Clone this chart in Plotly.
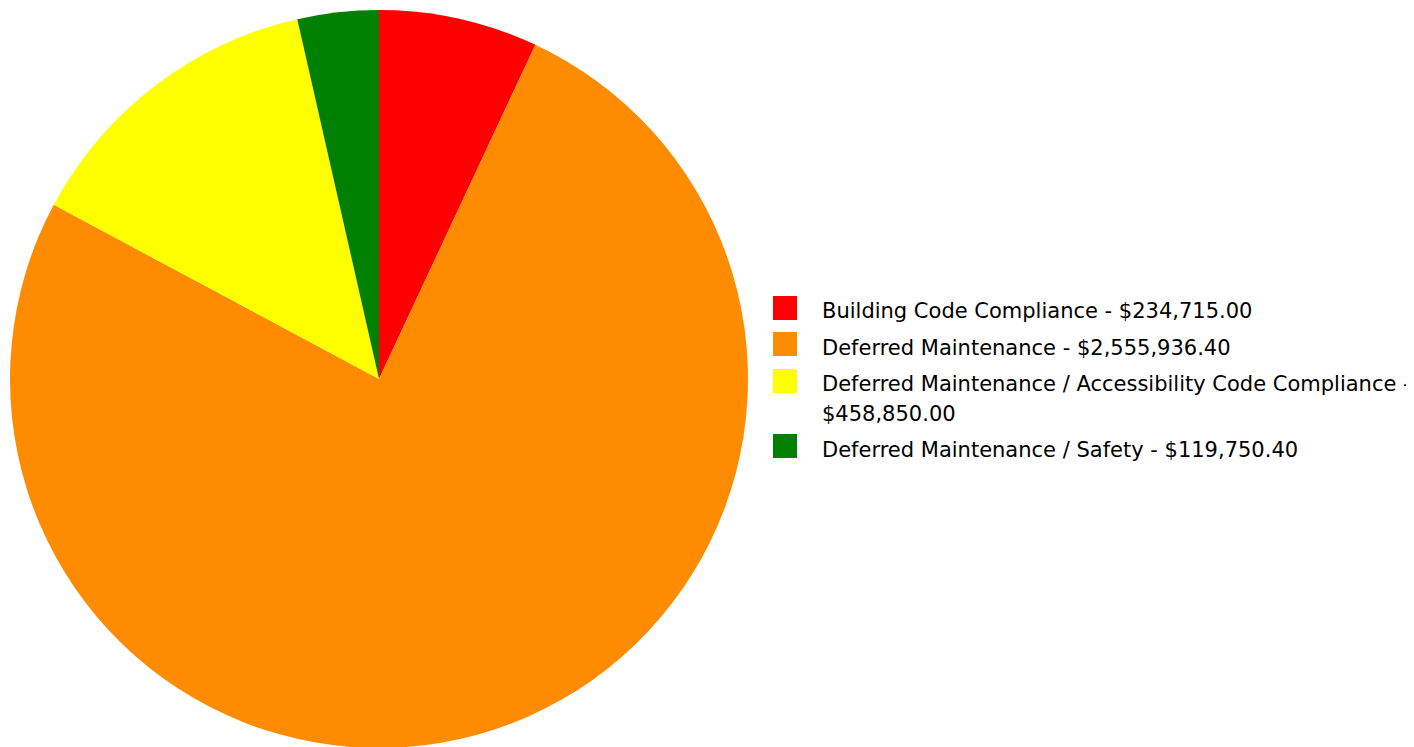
import plotly.graph_objects as go

categories = [
    "Building Code Compliance",
    "Deferred Maintenance",
    "Deferred Maintenance / Accessibility Code Compliance",
    "Deferred Maintenance / Safety",
]
values = [234715.00, 2555936.40, 458850.00, 119750.40]
colors = ["#FF0000", "#FF8C00", "#FFFF00", "#008000"]

W, H = 1414, 747
OFF = 8  # page body margin

def px(x):
    return (x - OFF) / W

def py(y):
    return 1 - (y - OFF) / H

fig = go.Figure()
fig.add_trace(go.Pie(
    labels=categories,
    values=values,
    marker=dict(colors=colors, line=dict(width=0)),
    sort=False,
    direction="clockwise",
    rotation=0,
    textinfo="none",
    hoverinfo="label+value+percent",
    showlegend=False,
    domain=dict(x=[px(10), px(748)], y=[py(748), py(10)]),
))

# Manual legend (swatches + labels), screen-pixel positions
swatch_tops = [296, 332, 369, 434]
line_centers = [[311], [348], [384, 414], [450]]
shapes = []
annotations = []
for i, (cat, val, col) in enumerate(zip(categories, values, colors)):
    label = f"{cat} - ${val:,.2f}"
    lines = [label]
    if len(label) > 55:
        head, tail = label.rsplit(" ", 1)
        lines = [head, tail]
    t = swatch_tops[i]
    shapes.append(dict(
        type="rect", xref="paper", yref="paper",
        x0=px(773), x1=px(797), y0=py(t + 24), y1=py(t),
        fillcolor=col, line=dict(width=0),
    ))
    for line, yc in zip(lines, line_centers[i]):
        annotations.append(dict(
            text=line, xref="paper", yref="paper",
            x=px(821), y=py(yc),
            xanchor="left", yanchor="middle", align="left",
            showarrow=False, borderpad=0,
            font=dict(family="DejaVu Sans", size=21, color="#000000"),
        ))

fig.update_layout(
    width=W, height=H,
    margin=dict(l=0, r=0, t=0, b=0),
    paper_bgcolor="white",
    plot_bgcolor="white",
    shapes=shapes,
    annotations=annotations,
)

fig.write_html("out.html")
